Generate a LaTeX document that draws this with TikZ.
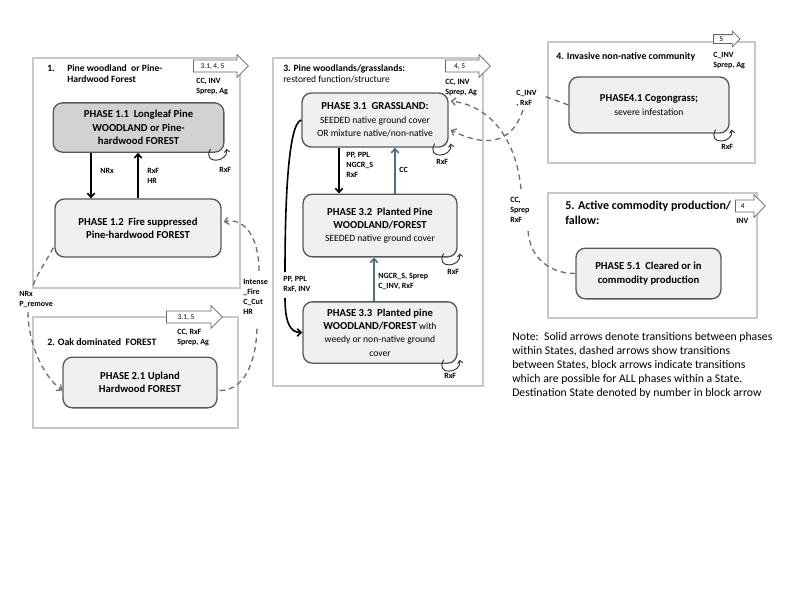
\documentclass[tikz,border=0pt]{standalone}
\usepackage{fontspec}
\setmainfont{Carlito}
\usetikzlibrary{shapes.arrows,calc,fit,arrows.meta}
\definecolor{stateline}{HTML}{C8C8C8}
\definecolor{phasefill}{HTML}{F0F0F0}
\definecolor{phasedark}{HTML}{D2D2D2}
\definecolor{blueline}{HTML}{4F6D8A}
\definecolor{dashline}{HTML}{707070}
\newcommand{\reg}[1]{{\mdseries\fontsize{7.2}{10}\selectfont #1}}
\newcommand{\bodytext}[2][8pt]{#2\hspace*{#1}}

\begin{document}
\begin{tikzpicture}[x=0.75pt,y=-0.75pt,
  statebox/.style={draw=stateline, line width=0.8pt, inner sep=0pt},
  phase/.style={draw=black!65, line width=1pt, rounded corners=7pt, fill=phasefill,
    align=center, inner sep=1pt, font=\bfseries\fontsize{8}{10}\selectfont},
  title/.style={anchor=north west, align=left, inner sep=0pt,
    font=\bfseries\fontsize{7.2}{8.5}\selectfont},
  lbl/.style={anchor=north west, align=left, inner sep=0pt,
    font=\bfseries\fontsize{6}{7.6}\selectfont},
  blockar/.style={single arrow, draw=black!60, fill=white, line width=0.6pt,
    anchor=west, inner xsep=1pt, inner ysep=2.2pt, text height=3.5pt, text depth=0.5pt,
    single arrow head extend=4pt, font=\fontsize{5.5}{6}\selectfont},
  solidar/.style={-{Straight Barb[length=3pt,width=5.5pt]}, line width=1.2pt},
  bluear/.style={solidar, blueline},
  trans/.style={dashline, dash pattern=on 4pt off 3pt, line width=1pt,
    -{Straight Barb[length=3pt,width=5.5pt]}},
  selfloop/.style={-{Straight Barb[length=2pt,width=4pt]}, line width=0.7pt, black!80}
]
\useasboundingbox (0,0) rectangle (800,600);

% states
\node[statebox, fit={(33,58) (240,288)}] (s1) {};
\node[statebox, fit={(33,317) (238,428)}] (s2) {};
\node[statebox, fit={(273,58) (483,386)}] (s3) {};
\node[statebox, fit={(548,42) (755,163)}] (s4) {};
\node[statebox, fit={(548,193) (757,318)}] (s5) {};

% block arrows
\node[blockar, minimum height=41.25pt] (b1) at (193,66) {\bodytext{3.1, 4, 5}};
\node[blockar, minimum height=42pt] (b2) at (166,317) {\bodytext{3.1, 5}};
\node[blockar, minimum height=33.75pt] (b3) at (445,66) {\bodytext{4, 5}};
\node[blockar, minimum height=20pt, inner ysep=1pt, single arrow head extend=2.5pt] (b4) at (713,39) {\bodytext[5pt]{5}};
\node[blockar, minimum height=22.5pt] (b5) at (735,206) {\bodytext[7pt]{4}};

% titles
\node[title] (t1) at (47,64) {\makebox[15pt][l]{1.}Pine woodland\ \ or Pine-\\\hspace*{15pt}Hardwood Forest};
\node[title, font=\bfseries\fontsize{7.4}{9}\selectfont] (t2) at (47,338) {2. Oak dominated\ \ FOREST};
\node[title] (t3) at (283,64) {3. Pine woodlands/grasslands:\\{\mdseries restored function/structure}};
\node[title, font=\bfseries\fontsize{7.4}{9}\selectfont] (t4) at (556,52) {4. Invasive non-native community};
\node[title, font=\bfseries\fontsize{9}{11}\selectfont] (t5) at (565,201) {5. Active commodity production/\\fallow:};

% phases
\node[phase, fill=phasedark, minimum width=128pt, minimum height=37pt] (p11) at (138.5,127.5)
  {PHASE 1.1\ \ Longleaf Pine\\WOODLAND or Pine-\\hardwood FOREST};
\node[phase, minimum width=124.5pt, minimum height=43.5pt] (p12) at (138,228)
  {PHASE 1.2\ \ Fire suppressed\\Pine-hardwood FOREST};
\node[phase, minimum width=115.5pt, minimum height=38pt] (p21) at (140,382.5)
  {PHASE 2.1 Upland\\Hardwood FOREST};
\node[phase, minimum width=109.5pt, minimum height=40.5pt] (p31) at (375,120)
  {PHASE 3.1\ \ GRASSLAND:\\\reg{SEEDED native ground cover}\\\reg{OR mixture native/non-native}};
\node[phase, minimum width=115.5pt, minimum height=47pt] (p32) at (380,225.5)
  {PHASE 3.2\ \ Planted Pine\\WOODLAND/FOREST\\\reg{SEEDED native ground cover}};
\node[phase, minimum width=115.5pt, minimum height=46pt] (p33) at (380,332.5)
  {PHASE 3.3\ \ Planted pine\\WOODLAND/FOREST \reg{with}\\\reg{weedy or non-native ground}\\\reg{cover}};
\node[phase, minimum width=120pt, minimum height=42pt] (p41) at (649,105)
  {PHASE4.1 Cogongrass;\\\reg{severe infestation}};
\node[phase, minimum width=108.75pt, minimum height=38pt] (p51) at (648.5,273.5)
  {PHASE 5.1\ \ Cleared or in\\commodity production};

% labels
\node[lbl] (lB1) at (196,78) {CC, INV\\Sprep, Ag};
\node[lbl] (lB2) at (177,329) {CC, RxF\\Sprep, Ag};
\node[lbl] (lB3) at (445,79) {CC, INV\\Sprep, Ag};
\node[lbl] (lB4) at (713,52) {C\_INV\\Sprep, Ag};
\node[lbl] (lB5) at (736,218) {INV};
\node[lbl] (lNRx) at (100,168) {NRx};
\node[lbl] (lRH) at (147,168) {RxF\\HR};
\node[lbl] (lNP) at (19,291) {NRx\\P\_remove};
\node[lbl] (lIF) at (243,279) {Intense\\\_Fire\\C\_Cut\\HR};
\node[lbl] (lPPN) at (346,152) {PP, PPL\\NGCR\_S\\RxF};
\node[lbl] (lCC) at (399,167) {CC};
\node[lbl] (lNS) at (378,273) {NGCR\_S, Sprep\\C\_INV, RxF};
\node[lbl] (lPPR) at (283,276) {PP, PPL\\RxF, INV};
\node[lbl] (lCI) at (516,90) {C\_INV\\, RxF};
\node[lbl] (lCS) at (510,197) {CC,\\Sprep\\RxF};
\node[lbl] (lR11) at (219,167) {RxF};
\node[lbl] (lR31) at (436,159) {RxF};
\node[lbl] (lR32) at (447,269) {RxF};
\node[lbl] (lR33) at (444,373) {RxF};
\node[lbl] (lR41) at (721,144) {RxF};

% note
\node[anchor=north west, align=left, inner sep=0pt, font=\fontsize{8.8}{10.6}\selectfont] (note) at (512,332)
  {Note:\ \ Solid arrows denote transitions between phases\\
   within States, dashed arrows show transitions\\
   between States, block arrows indicate transitions\\
   which are possible for ALL phases within a State.\\
   Destination State denoted by number in block arrow};

% within states
\draw[solidar] ($(p11.south)+(-47.5,0)$) -- ($(p12.north)+(-47,0)$);
\draw[solidar] (p12.north) -- (p12.north |- p11.south);
\draw[solidar] ($(p31.south)+(-36,0)$) -- ($(p32.north)+(-41,0)$);
\draw[bluear] ($(p32.north)+(15,0)$) -- ($(p31.south)+(20,0)$);
\draw[bluear] ($(p33.north)+(-6,0)$) -- ($(p32.south)+(-6,0)$);
\draw[solidar] (p31.west) .. controls +(-14,3) and +(0,-60) .. ($(lPPR.north west)+(2,-4)$)
  ($(lPPR.south west)+(2,5)$) .. controls +(0,25) and +(-12,0) .. (p33.west);

% self loops
\foreach \p in {p11,p31,p32,p33,p41}
  \draw[selfloop] ($(\p.south east)+(-14,-4)$) .. controls +(-9,16) and +(2,14) .. ($(\p.south east)+(2,-4)$);

% between states
\draw[trans] ($(p12.south west)+(-1,-10)$) .. controls +(-8,15) and +(3,-12) .. ($(lNP.north west)+(13,-2)$)
  ($(lNP.south west)+(9,4)$) .. controls +(0,30) and +(-20,-15) .. ($(p21.west)+(0,8)$);
\draw[trans] ($(p21.east)+(2,8)$) .. controls +(28,0) and +(0,30) .. ($(lIF.north west)+(14,46)$)
  ($(lIF.north west)+(16,-8)$) .. controls +(0,-35) and +(20,-5) .. ($(p12.east)+(2,-6)$);
\draw[trans] (p41.west) -- ($(lCI.north east)+(7,6)$)
  ($(lCI.south west)+(7,3)$) .. controls +(-10,30) and +(40,20) .. ($(p31.east)+(2,10)$);
\draw[trans] (p51.west) .. controls +(-30,0) and +(0,25) .. ($(lCS.south west)+(18,5)$)
  ($(lCS.north west)+(11,-8)$) .. controls +(-5,-50) and +(40,5) .. ($(p31.east)+(2,-19)$);
\end{tikzpicture}
\end{document}
